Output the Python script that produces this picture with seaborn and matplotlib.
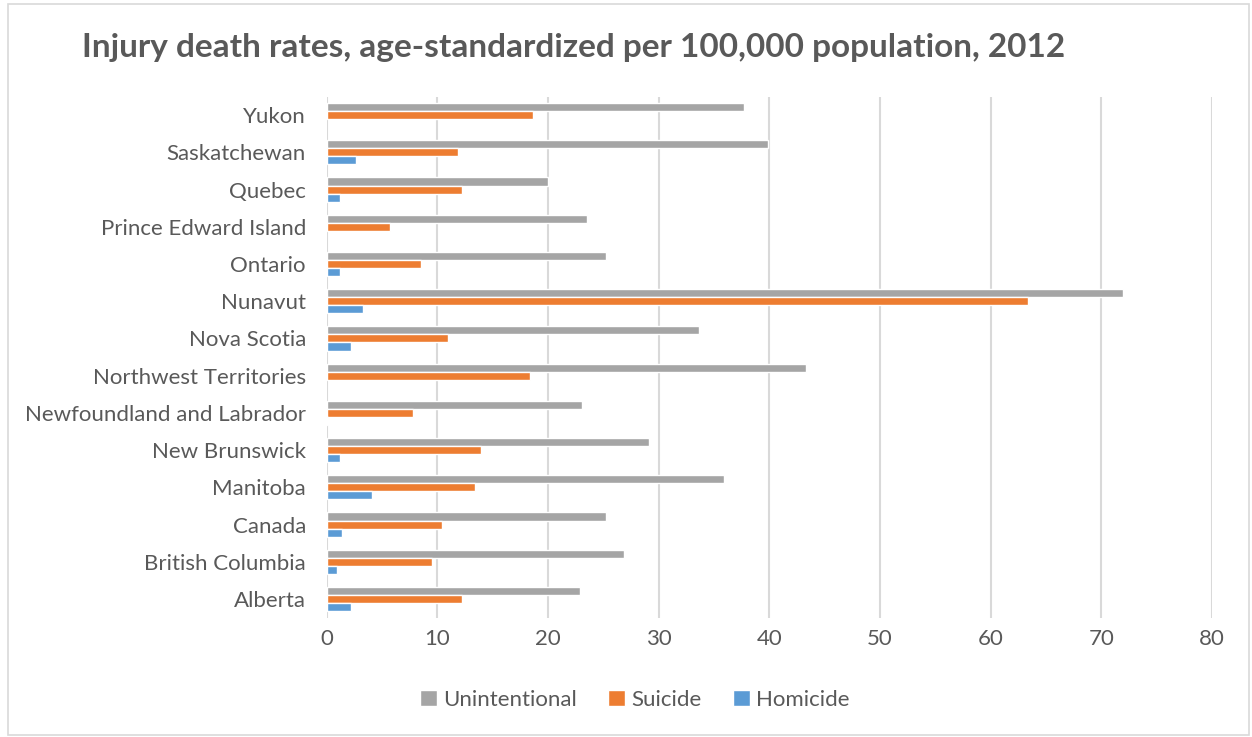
import numpy as np
import pandas as pd
import seaborn as sns
from matplotlib import pyplot as plt
from matplotlib.patches import Rectangle

# data (top to bottom)
regions = ['Yukon', 'Saskatchewan', 'Quebec', 'Prince Edward Island', 'Ontario',
           'Nunavut', 'Nova Scotia', 'Northwest Territories',
           'Newfoundland and Labrador', 'New Brunswick', 'Manitoba', 'Canada',
           'British Columbia', 'Alberta']
unintentional = [37.7, 39.9, 20.0, 23.5, 25.2, 72.0, 33.6, 43.3, 23.1, 29.1, 35.9, 25.2, 26.9, 22.9]
suicide = [18.6, 11.9, 12.2, 5.7, 8.5, 63.4, 11.0, 18.4, 7.8, 13.9, 13.4, 10.4, 9.5, 12.2]
homicide = [np.nan, 2.6, 1.2, np.nan, 1.2, 3.3, 2.2, np.nan, 0.15, 1.2, 4.1, 1.4, 0.96, 2.2]
series = ['Unintentional', 'Suicide', 'Homicide']
colors = ['#A5A5A5', '#ED7D31', '#5B9BD5']

df = pd.DataFrame({'Region': regions, 'Unintentional': unintentional,
                   'Suicide': suicide, 'Homicide': homicide})
long = df.melt(id_vars='Region', var_name='Type', value_name='Rate')

sns.set_style('white')
plt.rcParams['font.family'] = ['Lato', 'DejaVu Sans']
text_col = '#595959'

fig = plt.figure(figsize=(12.52, 7.37), dpi=100)
ax = fig.add_axes([0.261, 0.162, 0.707, 0.707])

sns.barplot(data=long, x='Rate', y='Region', hue='Type', order=regions,
            hue_order=series, palette=colors, saturation=1, orient='h',
            width=0.65, errorbar=None, ax=ax, zorder=3)

ax.set_xlim(0, 80)
ax.set_xticks(range(0, 81, 10))
ax.set_ylim(len(regions) - 0.5, -0.5)
ax.xaxis.grid(True, color='#D9D9D9', linewidth=1.5, zorder=0)
ax.yaxis.grid(False)
for s in ax.spines.values():
    s.set_visible(False)
ax.tick_params(axis='both', length=0, labelsize=16, colors=text_col, pad=8)
ax.tick_params(axis='y', pad=15)
ax.set_xlabel('')
ax.set_ylabel('')

leg = ax.legend(loc='upper center', bbox_to_anchor=(0.348, -0.1), ncol=3,
                frameon=False, fontsize=16, handlelength=0.75, handleheight=0.75,
                columnspacing=1.4, handletextpad=0.3)
for t in leg.get_texts():
    t.set_color(text_col)

fig.suptitle('Injury death rates, age-standardized per 100,000 population, 2012',
             x=0.458, y=0.955, fontsize=24, fontweight='bold', color=text_col)

fig.patches.append(Rectangle((0.006, 0.003), 0.992, 0.991, transform=fig.transFigure,
                             fill=False, edgecolor='#D9D9D9', linewidth=1.2))

fig.savefig('out.png', dpi=100)
